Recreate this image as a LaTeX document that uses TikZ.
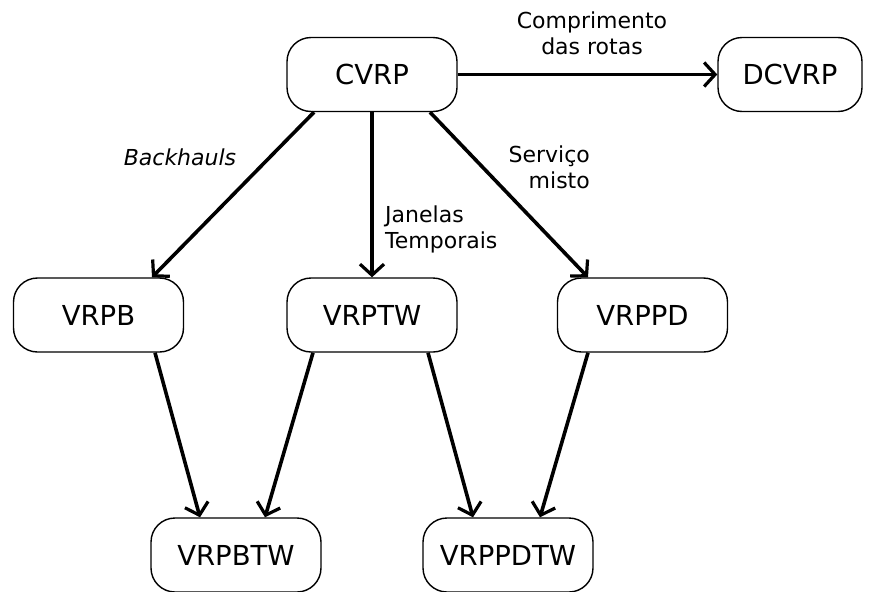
\documentclass[tikz,border=0pt]{standalone}
\usepackage{fontspec}
\setmainfont{DejaVu Sans}
\usetikzlibrary{arrows.meta}
\begin{document}
\begin{tikzpicture}[x=1pt,y=-1pt,
  probbox/.style={draw, line width=1.4pt, rounded corners=24pt, minimum width=170pt,
    minimum height=74pt, inner sep=0pt, font=\fontsize{27.5}{32}\selectfont},
  arc/.style={line width=3.6pt, -{Straight Barb[length=11pt,width=24pt,line width=3.2pt]}},
  lbl/.style={font=\fontsize{22}{26}\selectfont, inner sep=0pt}]
\useasboundingbox (0,0) rectangle (876,592);
% problem variants
\node[probbox] (cvrp) at (372,74.5) {CVRP};
\node[probbox, minimum width=144pt] (dcvrp) at (790,74.5) {DCVRP};
\node[probbox] (vrpb) at (98.5,315) {VRPB};
\node[probbox] (vrptw) at (372,315) {VRPTW};
\node[probbox] (vrppd) at (642.5,315) {VRPPD};
\node[probbox] (vrpbtw) at (236,555) {VRPBTW};
\node[probbox] (vrppdtw) at (508,555) {VRPPDTW};
% extensions
\draw[arc] (cvrp.east) -- (dcvrp.west);
\coordinate (c1) at ([xshift=-58pt]cvrp.south);
\draw[arc] (c1) -- ([xshift=53.5pt]vrpb.north);
\draw[arc] (cvrp) -- (vrptw);
\coordinate (c3) at ([xshift=58pt]cvrp.south);
\draw[arc] (c3) -- ([xshift=-54.5pt]vrppd.north);
\draw[arc] ([xshift=56.5pt]vrpb.south) -- ([xshift=-36pt]vrpbtw.north);
\draw[arc] ([xshift=-59pt]vrptw.south) -- ([xshift=29pt]vrpbtw.north);
\draw[arc] ([xshift=56pt]vrptw.south) -- ([xshift=-35pt]vrppdtw.north);
\draw[arc] ([xshift=-54.5pt]vrppd.south) -- ([xshift=32pt]vrppdtw.north);
% edge labels
\node[lbl, align=center] (l1) at (592,33) {Comprimento\\das rotas};
\node[lbl, font=\fontsize{22}{26}\selectfont\itshape] (l2) at (180,157) {Backhauls};
\node[lbl, align=left, anchor=west] (l3) at (385,229.5) {Janelas\\Temporais};
\node[lbl, align=right, anchor=east] (l4) at (590,167.5) {Serviço\\misto};
\end{tikzpicture}
\end{document}
